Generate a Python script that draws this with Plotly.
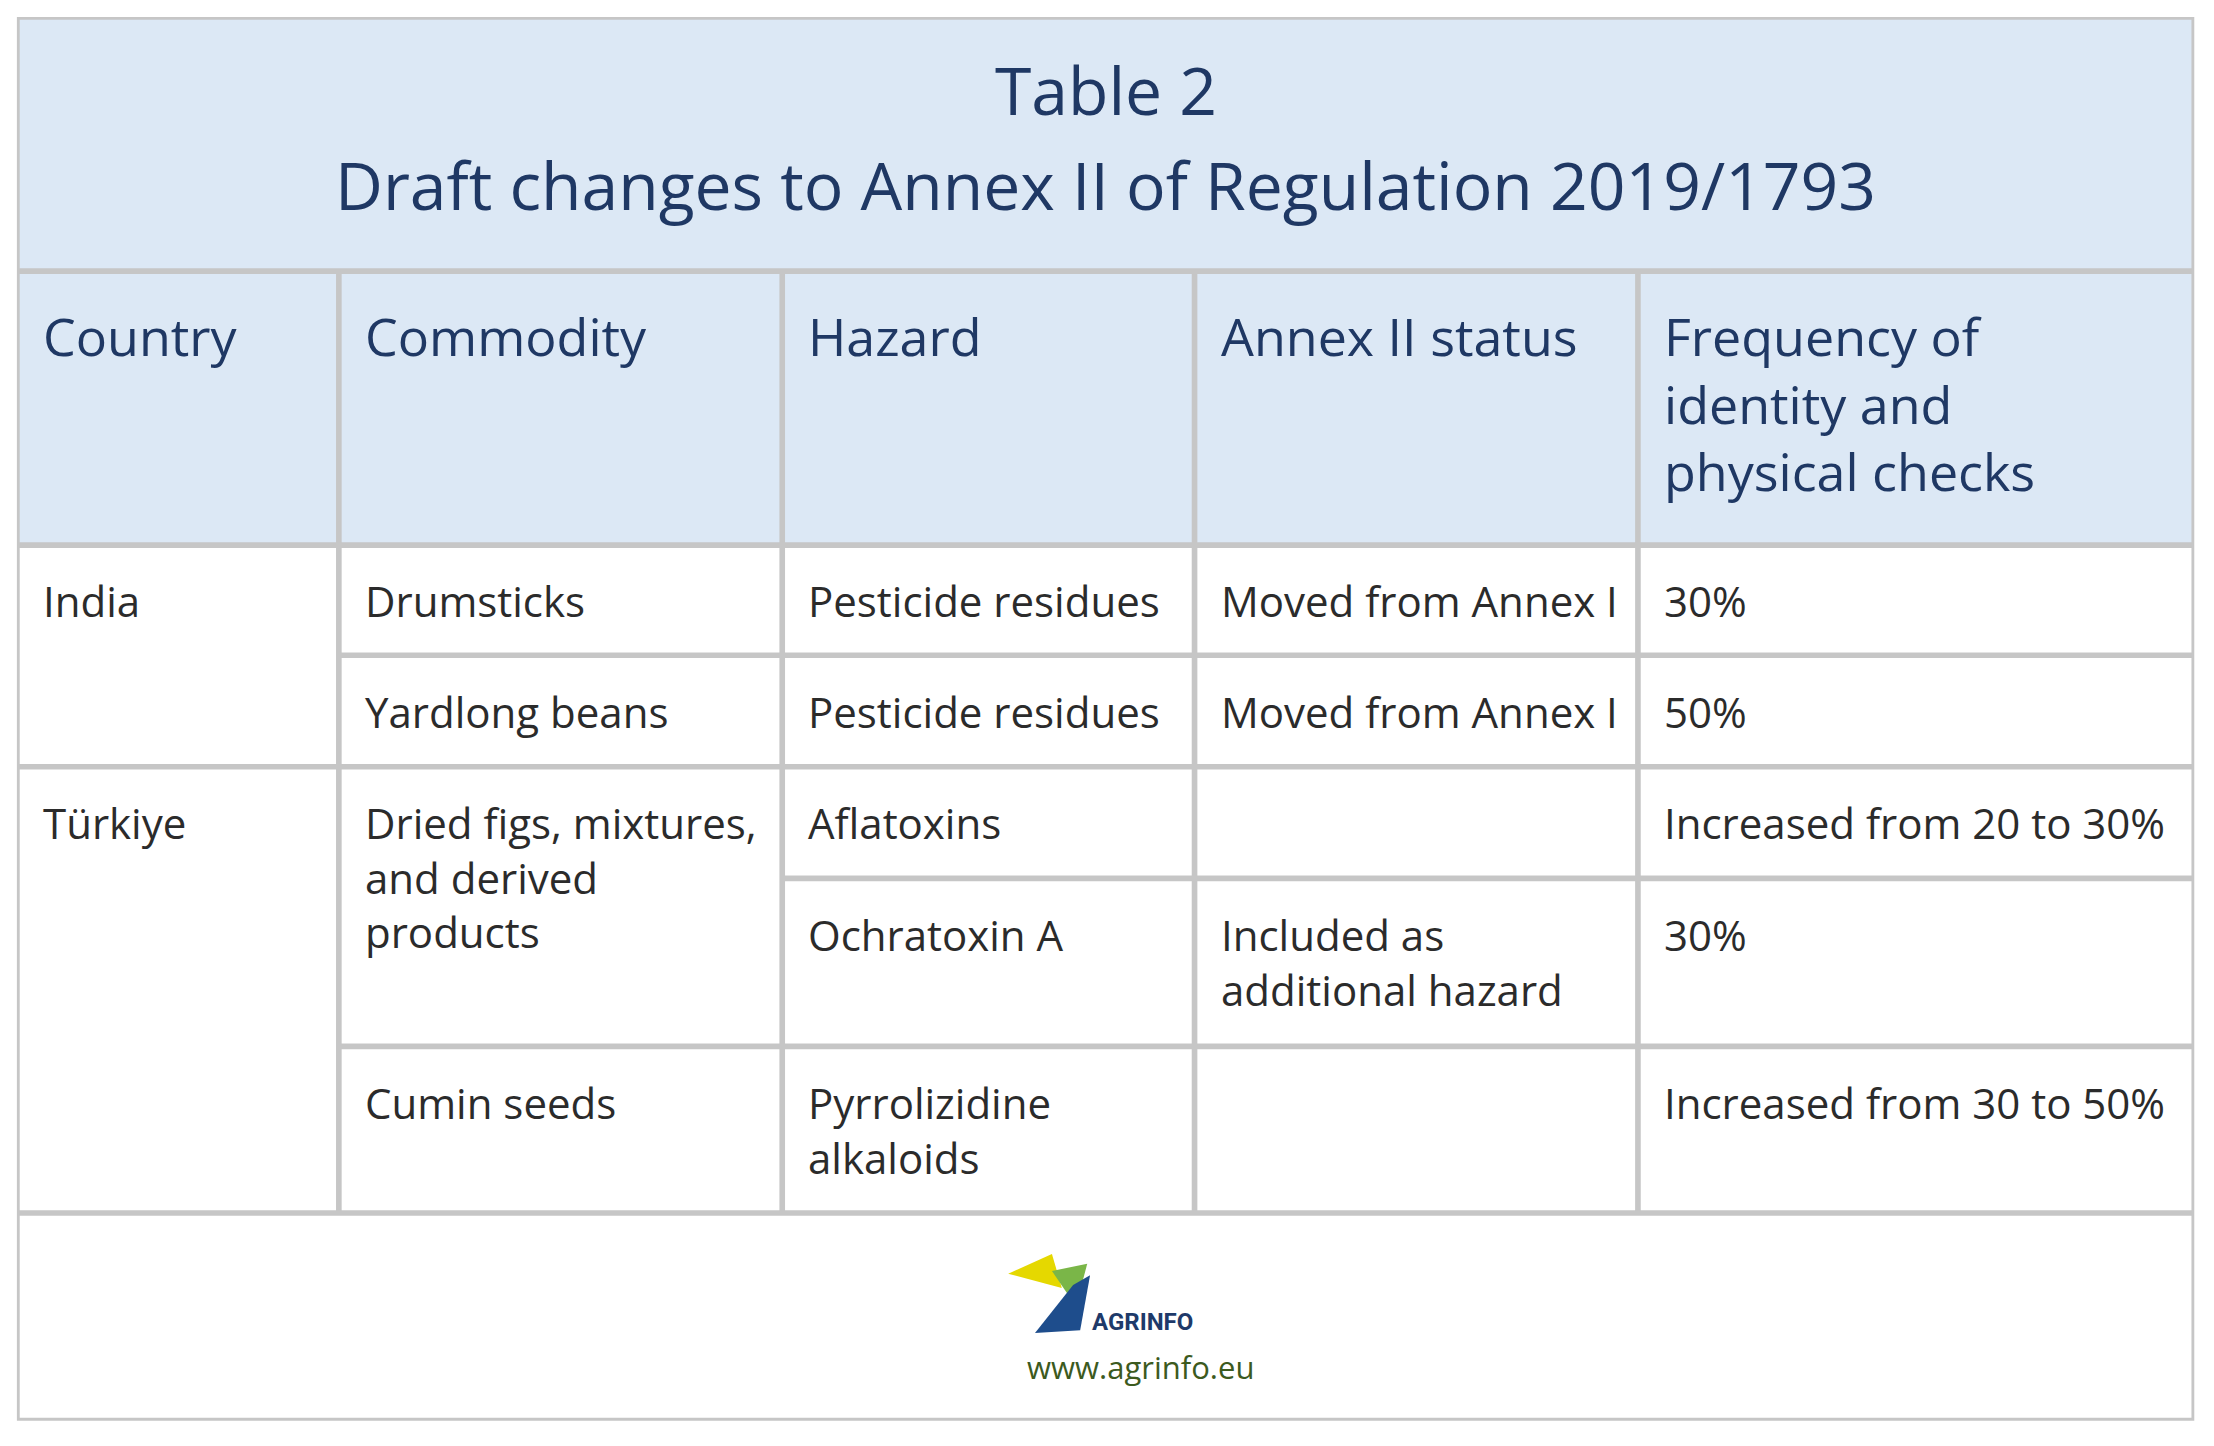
import plotly.graph_objects as go

title_lines = ["Table 2", "Draft changes to Annex II of Regulation 2019/1793"]
headers = ["Country", "Commodity", "Hazard", "Annex II status", "Frequency of<br>identity and<br>physical checks"]
countries = ["India", "Türkiye"]
commodities = ["Drumsticks", "Yardlong beans", "Dried figs, mixtures,<br>and derived<br>products", "Cumin seeds"]
hazards = ["Pesticide residues", "Pesticide residues", "Aflatoxins", "Ochratoxin A", "Pyrrolizidine<br>alkaloids"]
statuses = ["Moved from Annex I", "Moved from Annex I", "", "Included as<br>additional hazard", ""]
frequencies = ["30%", "50%", "Increased from 20 to 30%", "30%", "Increased from 30 to 50%"]
footer_url = "www.agrinfo.eu"

W, H = 1568, 1024
OFF = 5.7  # page body margin in reference units
colx = [12, 240, 554, 846, 1160, 1554]
rowy = [386, 464, 543, 622, 741, 859]
BLUE = "#dce8f5"
GRID = "#c6c6c6"
NAVY = "#1f3864"
TXT = "#2b2b2b"
FONT = "Open Sans"

fig = go.Figure()
shapes, ann = [], []

def cell(x0, y0, x1, y1, fill):
    shapes.append(dict(type="rect", x0=x0 + 2, x1=x1 - 2, y0=y0 + 2, y1=y1 - 2,
                       fillcolor=fill, line=dict(width=0), layer="below"))

shapes.append(dict(type="rect", x0=12, x1=1554, y0=12, y1=1006, fillcolor=GRID,
                   line=dict(width=0), layer="below"))
cell(12, 12, 1554, 192, BLUE)
for i in range(5):
    cell(colx[i], 192, colx[i + 1], 386, BLUE)
cell(12, 859, 1554, 1006, "white")

def txt(x, y, s, size, color=TXT, anchor="left"):
    ann.append(dict(x=x, y=y, text=s, showarrow=False, xanchor=anchor, yanchor="top",
                    align=anchor, font=dict(family=FONT, size=size, color=color)))

txt(783, 30, title_lines[0], 66, NAVY, "center")
txt(783, 97, title_lines[1], 66, NAVY, "center")
for i, h in enumerate(headers):
    txt(colx[i] + 17, 211, h, 52, NAVY)

country_rows = [(0, 2), (2, 5)]
for c, (r0, r1) in zip(countries, country_rows):
    cell(colx[0], rowy[r0], colx[1], rowy[r1], "white")
    txt(colx[0] + 17, rowy[r0] + 18, c, 42)
comm_rows = [(0, 1), (1, 2), (2, 4), (4, 5)]
for c, (r0, r1) in zip(commodities, comm_rows):
    cell(colx[1], rowy[r0], colx[2], rowy[r1], "white")
    txt(colx[1] + 17, rowy[r0] + 18, c, 42)
for r in range(5):
    for j, col in enumerate([hazards, statuses, frequencies]):
        cell(colx[2 + j], rowy[r], colx[3 + j], rowy[r + 1], "white")
        txt(colx[2 + j] + 17, rowy[r] + 18, col[r], 42)

# logo
shapes.append(dict(type="path", path="M 714 902 L 745 888 L 752 912 Z", fillcolor="#e5d800", line=dict(width=0)))
shapes.append(dict(type="path", path="M 745 900 L 770 895 L 762 925 Z", fillcolor="#7ab648", line=dict(width=0)))
shapes.append(dict(type="path", path="M 760 910 L 772 903 L 765 942 L 733 944 Z", fillcolor="#1e4d8c", line=dict(width=0)))
ann.append(dict(x=772, y=936, text="<b>AGRINFO</b>", showarrow=False, xanchor="left", yanchor="middle",
                font=dict(family="Roboto", size=24, color="#1e3a6a")))
txt(808, 952, footer_url, 31, "#3c5a1e", "center")

fig.update_layout(width=2198, height=1430, margin=dict(l=0, r=0, t=0, b=0),
                  paper_bgcolor="white", plot_bgcolor="white", shapes=shapes, annotations=ann,
                  xaxis=dict(range=[OFF, W - OFF], visible=False, fixedrange=True),
                  yaxis=dict(range=[H - OFF, OFF], visible=False, fixedrange=True), showlegend=False)
fig.write_html("out.html")
